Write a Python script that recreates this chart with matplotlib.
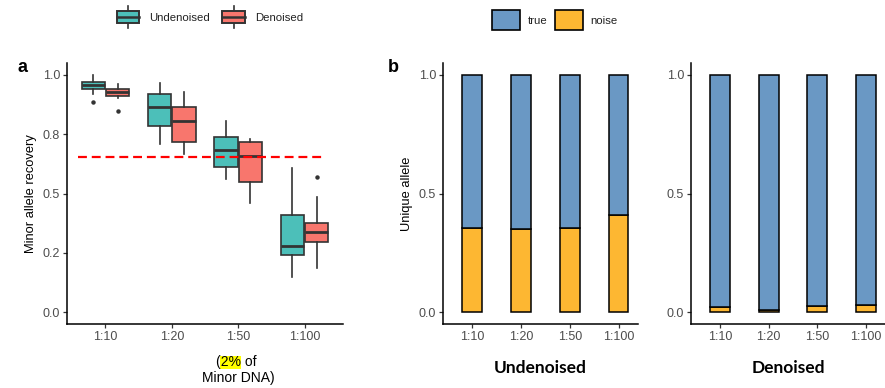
import matplotlib
matplotlib.use("Agg")
import matplotlib.pyplot as plt
from matplotlib.patches import Rectangle, Patch
from matplotlib.lines import Line2D
from matplotlib.legend_handler import HandlerBase


# -----------------------------
# Data
# -----------------------------
ratios = ["1:10", "1:20", "1:50", "1:100"]

# panel a: box stats per ratio
und_whislo = [0.918, 0.707, 0.560, 0.149]
und_q1 = [0.940, 0.783, 0.610, 0.242]
und_med = [0.956, 0.866, 0.682, 0.278]
und_q3 = [0.970, 0.921, 0.737, 0.411]
und_whishi = [1.000, 0.966, 0.807, 0.606]
und_fliers = [[0.885], [], [], []]

den_whislo = [0.904, 0.668, 0.460, 0.187]
den_q1 = [0.913, 0.716, 0.549, 0.294]
den_med = [0.927, 0.807, 0.660, 0.336]
den_q3 = [0.940, 0.866, 0.716, 0.377]
den_whishi = [0.962, 0.928, 0.729, 0.485]
den_fliers = [[0.848], [], [], [0.571]]

threshold = 0.654

a_yticks = [0.0, 0.25, 0.5, 0.75, 1.0]
a_yticklabels = ["0.0", "0.2", "0.5", "0.8", "1.0"]

# panel b: fraction of unique alleles that are noise
noise_undenoised = [0.354, 0.350, 0.356, 0.410]
noise_denoised = [0.023, 0.008, 0.025, 0.030]

b_yticks = [0.0, 0.5, 1.0]
b_yticklabels = ["0.0", "0.5", "1.0"]

# -----------------------------
# Style
# -----------------------------
TEAL = "#4CBFB9"
SALMON = "#F8766D"
BLUE = "#6A98C4"
YELLOW = "#FDB732"
EDGE = "#333333"
TICK_COL = "#4D4D4D"

plt.rcParams["font.family"] = ["Liberation Sans", "DejaVu Sans"]

W, H = 885, 388


def frac(x0, y0, x1, y1):
    # pixel box -> figure fraction [left, bottom, width, height]
    return [x0 / W, 1 - y1 / H, (x1 - x0) / W, (y1 - y0) / H]


def style_axes(ax):
    for s in ["top", "right"]:
        ax.spines[s].set_visible(False)
    for s in ["left", "bottom"]:
        ax.spines[s].set_linewidth(1.1)
        ax.spines[s].set_color("black")
    ax.tick_params(length=3, width=0.9, color="#333333",
                   labelsize=9, labelcolor=TICK_COL, pad=2)


class BoxHandler(HandlerBase):
    def create_artists(self, legend, orig_handle, xdescent, ydescent,
                       width, height, fontsize, trans):
        fc = orig_handle.get_facecolor()
        x0, y0 = -xdescent, -ydescent
        bh = height
        by = y0
        rect = Rectangle((x0, by), width, bh, facecolor=fc,
                         edgecolor=EDGE, lw=1.4, transform=trans)
        med = Line2D([x0, x0 + width], [y0 + height / 2] * 2,
                     color=EDGE, lw=1.8, transform=trans)
        xm = x0 + width / 2
        w1 = Line2D([xm, xm], [by + bh, by + bh + 4], color=EDGE,
                    lw=1.2, transform=trans)
        w2 = Line2D([xm, xm], [by - 4, by], color=EDGE,
                    lw=1.2, transform=trans)
        return [w1, w2, rect, med]


fig = plt.figure(figsize=(W / 100, H / 100), dpi=100)

# -----------------------------
# Panel a: boxplots
# -----------------------------
ax = fig.add_axes(frac(67, 63, 343, 324))
pos = list(range(1, len(ratios) + 1))
off, bw = 0.185, 0.35


def make_stats(lo, q1, med, q3, hi, fl):
    return [dict(whislo=lo[i], q1=q1[i], med=med[i], q3=q3[i],
                 whishi=hi[i], fliers=fl[i]) for i in range(len(lo))]


groups = [
    (make_stats(und_whislo, und_q1, und_med, und_q3, und_whishi, und_fliers),
     TEAL, -off),
    (make_stats(den_whislo, den_q1, den_med, den_q3, den_whishi, den_fliers),
     SALMON, off),
]
for stats, col, dx in groups:
    ax.bxp(stats, positions=[p + dx for p in pos], widths=bw,
           patch_artist=True, showcaps=False,
           boxprops=dict(facecolor=col, edgecolor=EDGE, lw=1.2),
           medianprops=dict(color=EDGE, lw=2.0),
           whiskerprops=dict(color=EDGE, lw=1.2),
           flierprops=dict(marker="o", markersize=2.2, markerfacecolor=EDGE,
                           markeredgecolor=EDGE))

ax.hlines(threshold, 0.58, 4.3, colors="red", linestyles=(0, (4, 2.2)),
          lw=1.6, zorder=5)

ax.set_xlim(0.42, 4.58)
ax.set_ylim(-0.05, 1.05)
ax.set_xticks(pos)
ax.set_xticklabels(ratios)
ax.set_yticks(a_yticks)
ax.set_yticklabels(a_yticklabels)
ax.set_ylabel("Minor allele recovery", fontsize=9.3, labelpad=4)
style_axes(ax)

# x title, with "2%" highlighted in yellow
XT_SIZE = 10
line1 = fig.text(236 / W, 1 - 366 / H, "(2% of", fontsize=XT_SIZE,
                 ha="center", va="baseline", zorder=3)
fig.text(238 / W, 1 - 382 / H, "Minor DNA)", fontsize=XT_SIZE,
         ha="center", va="baseline", zorder=3)

fig.canvas.draw()
r = fig.canvas.get_renderer()


def text_width(s):
    tmp = fig.text(0, 0, s, fontsize=XT_SIZE)
    w = tmp.get_window_extent(r).width
    tmp.remove()
    return w


bb = line1.get_window_extent(r)
hx0 = bb.x0 + text_width("(")
hx1 = bb.x0 + text_width("(2%")
base = (1 - 366 / H) * H
fig.patches.append(Rectangle((hx0 / W, (base - 3) / H), (hx1 - hx0) / W,
                             13 / H, transform=fig.transFigure,
                             facecolor="#FFFF00", edgecolor="none",
                             zorder=2))

fig.text(17 / W, 1 - 67 / H, "a", fontsize=13, fontweight="bold",
         va="center", ha="left")

# legend a
leg_a = fig.legend(handles=[Patch(facecolor=TEAL), Patch(facecolor=SALMON)],
                   labels=["Undenoised", "Denoised"],
                   handler_map={Patch: BoxHandler()},
                   loc="center", bbox_to_anchor=(210 / W, 1 - 17 / H),
                   ncol=2, frameon=False, fontsize=8.2,
                   handlelength=2.0, handleheight=1.2,
                   columnspacing=1.05, handletextpad=0.9)
for t in leg_a.get_texts():
    t.set_color("#222222")

# -----------------------------
# Panel b: stacked bars
# -----------------------------
panels = [
    (frac(443, 63, 638, 324), noise_undenoised, "Undenoised", True),
    (frac(691, 63, 885, 324), noise_denoised, "Denoised", False),
]
for box, noise, title, first in panels:
    bx = fig.add_axes(box)
    true_part = [1 - n for n in noise]
    bx.bar(pos, noise, width=0.41, color=YELLOW, edgecolor="black", lw=1.1)
    bx.bar(pos, true_part, bottom=noise, width=0.41, color=BLUE,
           edgecolor="black", lw=1.1)
    bx.set_xlim(0.4, 4.4)
    bx.set_ylim(-0.05, 1.05)
    bx.set_xticks(pos)
    bx.set_xticklabels(ratios)
    bx.set_yticks(b_yticks)
    bx.set_yticklabels(b_yticklabels)
    if first:
        bx.set_ylabel("Unique allele", fontsize=9.3, labelpad=4)
    bx.set_xlabel(title, fontsize=12.5, fontweight="bold",
                  family=["Lato", "DejaVu Sans"], labelpad=12)
    style_axes(bx)

fig.text(388 / W, 1 - 67 / H, "b", fontsize=13, fontweight="bold",
         va="center", ha="left")

leg_b = fig.legend(handles=[Patch(facecolor=BLUE, edgecolor="black", lw=1.2),
                            Patch(facecolor=YELLOW, edgecolor="black", lw=1.2)],
                   labels=["true", "noise"],
                   loc="center", bbox_to_anchor=(555 / W, 1 - 20 / H),
                   ncol=2, frameon=False, fontsize=8.2,
                   handlelength=2.4, handleheight=2.4,
                   columnspacing=0.7, handletextpad=0.7)
for t in leg_b.get_texts():
    t.set_color("#222222")

fig.savefig("out.png", dpi=100)
